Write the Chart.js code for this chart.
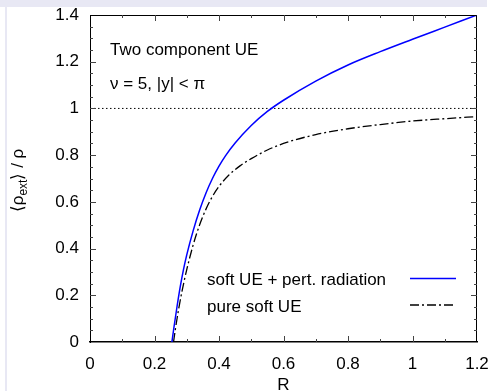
<!DOCTYPE html>
<html><head><meta charset="utf-8">
<script src="https://cdn.jsdelivr.net/npm/chart.js@4.4.0/dist/chart.umd.min.js"></script>
<style>
html,body{margin:0;padding:0;background:#fff;}
#wrap{position:relative;width:493px;height:391px;overflow:hidden;}
#bt{position:absolute;left:0;top:0;width:487px;height:7px;background:#e8e8f4;}
#bl{position:absolute;left:5px;top:0;width:2px;height:391px;background:#e8e8f4;}
canvas{position:absolute;left:0;top:0;}
</style></head><body>
<div id="wrap"><div id="bt"></div><div id="bl"></div><canvas id="c" width="493" height="391"></canvas></div>
<script>
// ---- data ----
const rSoftPert = [0.254,0.26,0.27,0.28,0.29,0.30,0.32,0.34,0.36,0.38,0.40,0.42,0.45,0.50,0.55,0.60,0.70,0.80,0.90,1.00,1.10,1.20];
const vSoftPert = [0,0.06,0.153,0.238,0.311,0.373,0.477,0.565,0.639,0.701,0.753,0.797,0.852,0.927,0.987,1.035,1.117,1.186,1.243,1.296,1.348,1.40];
const rSoft = [0.259,0.265,0.275,0.285,0.30,0.32,0.34,0.36,0.38,0.40,0.43,0.465,0.50,0.55,0.60,0.70,0.80,0.90,1.00,1.10,1.20];
const vSoft = [0,0.057,0.142,0.215,0.31,0.416,0.502,0.57,0.624,0.666,0.714,0.754,0.785,0.822,0.85,0.888,0.913,0.931,0.946,0.956,0.965];
const refR = [0,1.2];
const refV = [1,1];
const xTickValues = [0,0.2,0.4,0.6,0.8,1,1.2];
const xTickLabels = ['0','0.2','0.4','0.6','0.8','1','1.2'];
const xMinorValues = [0.1,0.3,0.5,0.7,0.9,1.1];
const yTickValues = [0,0.2,0.4,0.6,0.8,1,1.2,1.4];
const yTickLabels = ['0','0.2','0.4','0.6','0.8','1','1.2','1.4'];
const yMinorValues = [0.05,0.1,0.15,0.25,0.3,0.35,0.45,0.5,0.55,0.65,0.7,0.75,0.85,0.9,0.95,1.05,1.1,1.15,1.25,1.3,1.35];
const seriesLabels = ['soft UE + pert. radiation','pure soft UE'];
const noteLines = ['Two component UE','\u03bd = 5, |y| < \u03c0'];
const xTitle = 'R';
const yTitleParts = ['\u27e8\u03c1','ext','\u27e9 / \u03c1'];

const FONT = "'Liberation Sans', Arial, Helvetica, sans-serif";
const FS = 17;

const zip = (a,b)=>a.map((v,i)=>({x:v,y:b[i]}));

const decor = {
  id:'decor',
  afterDatasetsDraw(chart){
    const ctx = chart.ctx, a = chart.chartArea;
    const xs = chart.scales.x, ys = chart.scales.y;
    ctx.save();
    ctx.strokeStyle = '#000'; ctx.lineWidth = 1;
    ctx.beginPath();
    ctx.moveTo(Math.round(a.left)+0.5, Math.round(a.top)+0.5);
    ctx.lineTo(Math.round(a.right)-0.5, Math.round(a.top)+0.5);
    ctx.lineTo(Math.round(a.right)-0.5, Math.round(a.bottom));
    ctx.stroke();
    ctx.strokeStyle = '#444';
    const tick = (vals, len, axis) => {
      vals.forEach(v=>{
        if(axis==='x'){
          const p = Math.round(xs.getPixelForValue(v))+0.5;
          ctx.beginPath();
          ctx.moveTo(p, a.bottom); ctx.lineTo(p, a.bottom-len);
          ctx.moveTo(p, a.top); ctx.lineTo(p, a.top+len);
          ctx.stroke();
        } else {
          const p = Math.round(ys.getPixelForValue(v))+0.5;
          ctx.beginPath();
          ctx.moveTo(a.left, p); ctx.lineTo(a.left+len, p);
          ctx.moveTo(a.right, p); ctx.lineTo(a.right-len, p);
          ctx.stroke();
        }
      });
    };
    tick(xTickValues.slice(1,-1), 6, 'x');
    tick(xMinorValues, 3, 'x');
    tick(yTickValues.slice(1,-1), 6, 'y');
    tick(yMinorValues, 3, 'y');
    ctx.fillStyle = '#000';
    ctx.font = FS+'px '+FONT;
    ctx.textAlign = 'left'; ctx.textBaseline = 'alphabetic';
    ctx.fillText(noteLines[0], a.left+20, a.top+39.5);
    ctx.fillText(noteLines[1], a.left+20, a.top+73.5);
    const lx = a.left+117, sx0 = a.left+320, sx1 = a.left+366;
    const base = [a.bottom-57, a.bottom-30.5];
    [0,1].forEach(i=>{
      const ds = chart.data.datasets[i];
      ctx.fillStyle='#000';
      ctx.fillText(ds.label, lx, base[i]);
      ctx.strokeStyle = ds.borderColor; ctx.lineWidth = ds.borderWidth;
      ctx.setLineDash(ds.borderDash||[]);
      ctx.beginPath(); ctx.moveTo(sx0, base[i]-6.5); ctx.lineTo(sx1, base[i]-6.5); ctx.stroke();
      ctx.setLineDash([]);
    });
    ctx.textAlign='center';
    ctx.fillText(xTitle, (a.left+a.right)/2, a.bottom+48);
    ctx.translate(17, (a.top+a.bottom)/2+2);
    ctx.rotate(-Math.PI/2);
    const f1 = FS+'px '+FONT, f2 = '12px '+FONT;
    ctx.font=f1; const w1=ctx.measureText(yTitleParts[0]).width, w3=ctx.measureText(yTitleParts[2]).width;
    ctx.font=f2; const w2=ctx.measureText(yTitleParts[1]).width;
    let x0 = -(w1+w2+w3)/2;
    ctx.textAlign='left';
    ctx.font=f1; ctx.fillText(yTitleParts[0], x0, 6); x0+=w1;
    ctx.font=f2; ctx.fillText(yTitleParts[1], x0, 10); x0+=w2;
    ctx.font=f1; ctx.fillText(yTitleParts[2], x0, 6);
    ctx.restore();
  }
};

new Chart(document.getElementById('c'), {
  type:'scatter',
  data:{datasets:[
    {label:seriesLabels[0], data:zip(rSoftPert,vSoftPert), showLine:true, borderColor:'#0000ff', borderWidth:1.5, pointRadius:0, cubicInterpolationMode:'monotone', fill:false},
    {label:seriesLabels[1], data:zip(rSoft,vSoft), showLine:true, borderColor:'#000', borderWidth:1.3, borderDash:[9,3,2,3], pointRadius:0, cubicInterpolationMode:'monotone', fill:false},
    {label:'ref', data:zip(refR,refV), showLine:true, borderColor:'#000', borderWidth:1, borderDash:[1.5,2.5], pointRadius:0, fill:false}
  ]},
  options:{
    responsive:false, animation:false, devicePixelRatio:1,
    layout:{padding:{top:15,right:16,left:0,bottom:0}},
    plugins:{legend:{display:false}, tooltip:{enabled:false}},
    scales:{
      x:{type:'linear', min:0, max:1.2,
        afterBuildTicks:s=>{s.ticks = xTickValues.map(v=>({value:v}));},
        afterFit:s=>{s.height=49; s.paddingLeft=0; s.paddingRight=0; s.paddingTop=0; s.paddingBottom=0;},
        ticks:{callback:(v,i)=>xTickLabels[i], color:'#000', font:{family:FONT,size:FS}, padding:12, maxRotation:0, autoSkip:false},
        grid:{display:false, drawTicks:false},
        border:{display:true, color:'#000', width:1.5}},
      y:{type:'linear', min:0, max:1.4,
        afterBuildTicks:s=>{s.ticks = yTickValues.map(v=>({value:v}));},
        afterFit:s=>{s.width=90; s.paddingLeft=0; s.paddingRight=0; s.paddingTop=0; s.paddingBottom=0;},
        ticks:{callback:(v,i)=>yTickLabels[i], color:'#000', font:{family:FONT,size:FS}, padding:11, autoSkip:false},
        grid:{display:false, drawTicks:false},
        border:{display:true, color:'#000', width:1}}
    }
  },
  plugins:[decor]
});
</script>
</body></html>
